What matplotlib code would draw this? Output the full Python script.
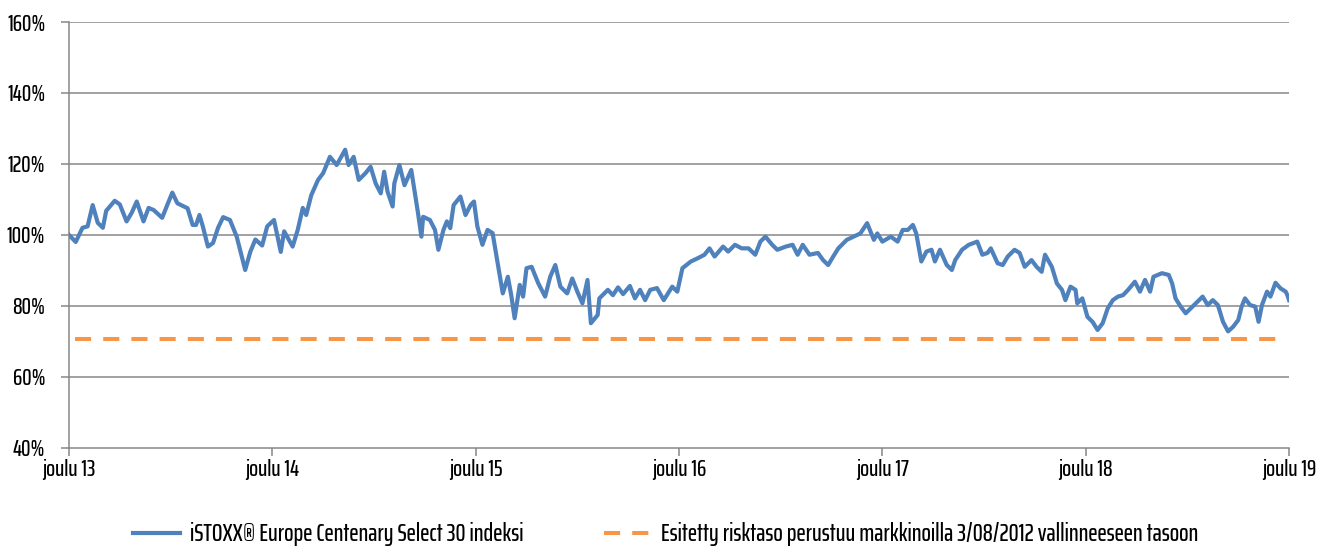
import matplotlib
matplotlib.use('Agg')
import matplotlib.pyplot as plt

# months since joulu 2013 and index level (%)
months = [0.0, 0.1, 0.4, 0.5, 0.8, 1.1, 1.4, 1.7, 2.0, 2.2, 2.7, 3.0, 3.4, 3.7, 4.0, 4.4,
          4.7, 5.0, 5.5, 5.8, 6.1, 6.4, 7.0, 7.3, 7.5, 7.7, 7.9, 8.2, 8.5, 8.8, 9.1, 9.5,
          9.9, 10.2, 10.4, 10.7, 11.0, 11.4, 11.7, 12.1, 12.5, 12.7, 13.2, 13.5, 13.8, 14.0,
          14.3, 14.7, 15.0, 15.4, 15.8, 16.3, 16.5, 16.8, 17.1, 17.5, 17.8, 18.1, 18.4, 18.6,
          18.8, 19.1, 19.2, 19.5, 19.8, 20.2, 20.4, 20.6, 20.8, 20.9, 21.3, 21.6, 21.8, 22.1,
          22.3, 22.5, 22.7, 23.1, 23.4, 23.7, 23.9, 24.1, 24.4, 24.7, 25.0, 25.3, 25.4, 25.6,
          25.9, 26.1, 26.3, 26.6, 26.8, 27.0, 27.3, 27.7, 28.1, 28.4, 28.7, 29.0, 29.4, 29.7,
          30.0, 30.3, 30.6, 30.8, 31.2, 31.3, 31.8, 32.1, 32.4, 32.7, 33.1, 33.4, 33.7, 34.0,
          34.3, 34.7, 35.1, 35.6, 35.9, 36.2, 36.7, 37.1, 37.5, 37.8, 38.1, 38.6, 38.9, 39.3,
          39.7, 40.1, 40.5, 40.8, 41.1, 41.5, 41.8, 42.3, 42.7, 43.0, 43.3, 43.7, 44.2, 44.5,
          44.8, 45.1, 45.4, 45.9, 46.3, 46.7, 47.1, 47.5, 47.7, 48.0, 48.5, 48.9, 49.2, 49.5,
          49.8, 50.0, 50.3, 50.6, 50.9, 51.1, 51.4, 51.8, 52.1, 52.3, 52.7, 53.1, 53.6, 53.9,
          54.2, 54.4, 54.8, 55.1, 55.4, 55.8, 56.1, 56.4, 56.8, 57.1, 57.4, 57.6, 58.0, 58.3,
          58.6, 58.8, 59.1, 59.4, 59.5, 59.8, 60.1, 60.4, 60.7, 61.0, 61.3, 61.6, 61.9, 62.2,
          62.5, 62.9, 63.2, 63.5, 63.8, 64.0, 64.5, 64.9, 65.1, 65.3, 65.6, 65.9, 66.2, 66.6,
          66.9, 67.2, 67.5, 67.8, 68.1, 68.4, 68.7, 69.0, 69.2, 69.4, 69.7, 70.0, 70.2, 70.4,
          70.7, 70.9, 71.2, 71.5, 71.8, 71.9, 72.0]
index_level = [100.0, 99.5, 98.0, 99.0, 102.0, 102.4, 108.4, 103.4, 102.0, 106.8, 109.6, 108.6,
               103.8, 106.2, 109.4, 103.8, 107.6, 107.0, 104.8, 108.4, 111.9, 108.9, 107.5, 102.8,
               102.8, 105.6, 102.4, 96.7, 97.7, 102.0, 105.0, 104.2, 99.5, 93.9, 90.1, 95.2,
               98.7, 97.0, 102.4, 104.2, 95.2, 101.0, 96.7, 101.4, 107.6, 105.6, 111.2, 115.5,
               117.4, 122.0, 119.7, 124.0, 119.7, 122.0, 115.5, 117.4, 119.2, 114.5, 111.7, 117.8,
               112.2, 108.0, 114.5, 119.7, 114.0, 118.3, 112.2, 106.1, 99.5, 105.1, 104.2, 101.4,
               95.8, 101.4, 103.8, 101.9, 108.4, 110.8, 105.6, 108.4, 109.4, 102.4, 97.2, 101.4,
               100.5, 92.0, 89.2, 83.5, 88.2, 83.0, 76.5, 85.9, 82.6, 90.6, 91.0, 86.3,
               82.6, 88.2, 91.5, 85.4, 83.5, 87.7, 84.0, 80.7, 87.3, 75.1, 77.4, 82.1,
               84.5, 83.0, 85.2, 83.3, 85.6, 82.1, 84.5, 81.6, 84.5, 85.0, 81.6, 85.4,
               84.0, 90.6, 92.5, 93.4, 94.4, 96.2, 93.9, 96.7, 95.3, 97.2, 96.2, 96.2,
               94.4, 98.1, 99.5, 97.2, 95.8, 96.7, 97.2, 94.4, 97.2, 94.4, 94.9, 92.9,
               91.5, 93.9, 96.2, 98.6, 99.5, 100.4, 103.3, 98.6, 100.4, 98.1, 99.5, 98.1,
               101.4, 101.4, 102.8, 100.4, 92.5, 95.3, 95.8, 92.5, 95.8, 91.5, 90.1, 92.9,
               95.8, 97.2, 98.1, 94.4, 94.9, 96.2, 92.0, 91.5, 93.9, 95.8, 94.9, 91.0,
               92.9, 91.0, 89.6, 94.4, 91.0, 86.3, 84.5, 81.6, 85.4, 84.5, 80.7, 82.1,
               76.9, 75.5, 73.2, 75.1, 79.3, 81.6, 82.6, 83.0, 84.5, 86.8, 84.0, 87.3,
               84.0, 88.2, 89.2, 88.7, 86.3, 82.1, 79.8, 77.9, 79.3, 81.2, 82.6, 80.2,
               81.6, 80.2, 75.5, 72.8, 74.1, 76.0, 79.8, 82.1, 80.2, 79.8, 75.5, 80.2,
               84.0, 82.6, 86.5, 84.9, 84.0, 83.0, 81.6]
risk_level = 70.7
tick_months = [0, 12, 24, 36, 48, 60, 72]
tick_labels = ['joulu 13', 'joulu 14', 'joulu 15', 'joulu 16', 'joulu 17', 'joulu 18', 'joulu 19']
y_ticks = [40, 60, 80, 100, 120, 140, 160]

plt.rcParams['font.family'] = ['Saira ExtraCondensed', 'Pathway Gothic One', 'DejaVu Sans']
plt.rcParams['font.weight'] = 500

blue = '#4F81BD'
orange = '#F79646'
grid_col = '#878787'

fig = plt.figure(figsize=(13.31, 5.48), dpi=100)
ax = fig.add_axes([0.0518, 0.183, 0.9167, 0.7768])

for yv in y_ticks[1:]:
    ax.axhline(yv, color=grid_col, lw=1.1, zorder=1)

ax.plot(months, index_level, color=blue, lw=3.0, solid_joinstyle='round',
        label='iSTOXX® Europe Centenary Select 30 indeksi', zorder=3)
ax.plot([0.35, 71.8], [risk_level, risk_level], color=orange, lw=2.9,
        linestyle=(0, (4.0, 3.0)),
        label='Esitetty risktaso perustuu markkinoilla 3/08/2012 vallinneeseen tasoon', zorder=2)

ax.set_xlim(0, 72)
ax.set_ylim(40, 160)
ax.set_yticks(y_ticks)
ax.set_yticklabels([f'{v}%' for v in y_ticks])
ax.set_xticks(tick_months)
ax.set_xticklabels(tick_labels)
ax.tick_params(axis='both', labelsize=17, color=grid_col, width=1.1, length=6)
ax.tick_params(axis='y', pad=11)
ax.tick_params(axis='x', pad=2)
for side in ['top', 'right']:
    ax.spines[side].set_visible(False)
for side in ['left', 'bottom']:
    ax.spines[side].set_color(grid_col)
    ax.spines[side].set_linewidth(1.1)

fig.legend(loc='center', bbox_to_anchor=(0.5, 0.025), ncol=2, frameon=False,
           fontsize=18, handlelength=1.9, columnspacing=3.2, handletextpad=0.4)

plt.savefig('out.png', dpi=100)
plt.close()
